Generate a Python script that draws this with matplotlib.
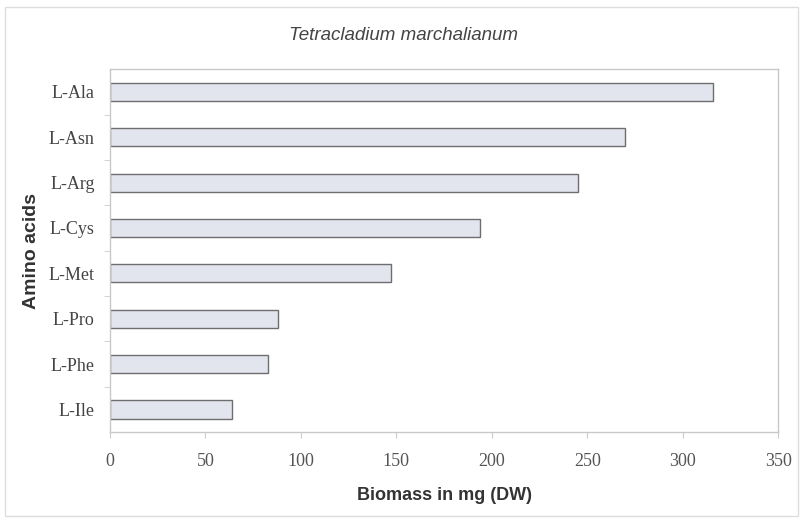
import matplotlib.pyplot as plt
from matplotlib.patches import Rectangle

amino_acids = ["L-Ala", "L-Asn", "L-Arg", "L-Cys", "L-Met", "L-Pro", "L-Phe", "L-Ile"]
biomass = [316, 270, 245, 194, 147, 88, 83, 64]
x_ticks = [0, 50, 100, 150, 200, 250, 300, 350]

fig = plt.figure(figsize=(8.03, 5.20), dpi=100)
ax = fig.add_axes([0.137, 0.169, 0.832, 0.698])

pos = list(range(len(amino_acids)))
ax.barh(pos, biomass, height=0.4, color="#e3e5ee", edgecolor="#6e6e6e", linewidth=1.0)
ax.set_ylim(len(amino_acids) - 0.5, -0.5)
ax.set_xlim(0, 350)

ax.set_yticks(pos)
ax.set_yticklabels(amino_acids, family="Liberation Serif", fontsize=13, color="#444444")
ax.set_yticks([p + 0.5 for p in pos[:-1]], minor=True)
ax.tick_params(axis="y", which="major", length=0, pad=11)
ax.tick_params(axis="y", which="minor", length=4, color="#cccccc")

ax.set_xticks(x_ticks)
ax.set_xticklabels([str(v) for v in x_ticks], family="Liberation Serif", fontsize=13, color="#555555")
ax.tick_params(axis="x", length=4, color="#cccccc", pad=11)

for s in ax.spines.values():
    s.set_color("#c8c8c8")
    s.set_linewidth(1.0)

ax.set_xlabel("Biomass in mg (DW)", family="Liberation Sans", fontsize=13,
              fontweight="bold", color="#333333", labelpad=12)
ax.set_ylabel("Amino acids", family="Liberation Sans", fontsize=14,
              fontweight="bold", color="#333333", labelpad=6)
fig.text(0.502, 0.931, "Tetracladium marchalianum", ha="center", va="center",
         family="Liberation Sans", style="italic", fontsize=13.5, color="#444444")

fig.patches.append(Rectangle((0.006, 0.008), 0.988, 0.978, transform=fig.transFigure,
                             fill=False, edgecolor="#dddddd", linewidth=1.0))

fig.savefig("out.png", dpi=100)
